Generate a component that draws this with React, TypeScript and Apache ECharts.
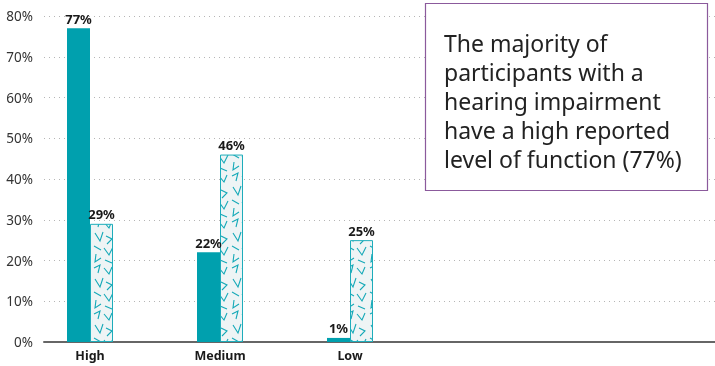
import React, { useEffect, useRef } from "react";
import * as echarts from "echarts";

const categories = ["High", "Medium", "Low", "", ""];
const seriesSolid = [77, 22, 1];
const seriesPattern = [29, 46, 25];
const yTicks = [0, 10, 20, 30, 40, 50, 60, 70, 80];
const noteLines = [
  "The majority of",
  "participants with a",
  "hearing impairment",
  "have a high reported",
  "level of function (77%)",
];

const TEAL = "#00a0ae";
const tileSvg =
  `<svg xmlns='http://www.w3.org/2000/svg' width='23' height='46'>` +
  `<rect width='23' height='46' fill='#eef4f5'/>` +
  `<g fill='none' stroke='#14a9b8' stroke-width='1.1'>` +
  `<path d='M3 3 L8 11 L11 2'/>` +
  `<path d='M14 6 L20 9 L15 14'/>` +
  `<path d='M2 16 L9 20'/>` +
  `<path d='M12 18 L17 25 L21 17'/>` +
  `<path d='M4 24 L3 32 L9 28'/>` +
  `<path d='M13 30 L20 33'/>` +
  `<path d='M2 38 L8 35 L6 43'/>` +
  `<path d='M12 38 L17 44 L20 37'/>` +
  `</g></svg>`;
const tileUrl = "data:image/svg+xml;charset=utf-8," + encodeURIComponent(tileSvg);

export default function App() {
  const ref = useRef<HTMLDivElement>(null);
  useEffect(() => {
    if (!ref.current) return;
    const chart = echarts.init(ref.current, null, { renderer: "svg" });
    const labelStyle = {
      show: true,
      position: "top" as const,
      distance: 3,
      formatter: (p: any) => p.value + "%",
      fontFamily: "Noto Sans",
      fontWeight: "bold" as const,
      fontSize: 13,
      color: "#1a1a1a",
    };
    const option = {
      animation: false,
      grid: [
        { left: 44, right: 0, top: 16, bottom: 24 },
        { left: 25, width: 650, top: 16, bottom: 24 },
      ],
      xAxis: [
        {
          gridIndex: 0,
          type: "value",
          min: 0,
          max: 1,
          axisLine: { show: true, lineStyle: { color: "#666", width: 2 } },
          axisTick: { show: false },
          axisLabel: { show: false },
          splitLine: { show: false },
        },
        {
          gridIndex: 1,
          type: "category",
          data: categories,
          axisLine: { show: false },
          axisTick: { show: false },
          axisLabel: {
            fontFamily: "Noto Sans",
            fontWeight: "bold",
            fontSize: 12.5,
            color: "#1a1a1a",
            margin: 7,
          },
        },
      ],
      yAxis: [
        {
          gridIndex: 0,
          type: "value",
          min: 0,
          max: 80,
          interval: 10,
          axisLine: { show: false },
          axisTick: { show: false },
          axisLabel: {
            formatter: (v: number) => (yTicks.includes(v) ? v + "%" : ""),
            fontFamily: "Noto Sans",
            fontSize: 13.5,
            color: "#333",
            margin: 11,
          },
          splitLine: {
            show: true,
            lineStyle: { color: "#b5b5b5", type: [1, 4], width: 1 },
          },
        },
        {
          gridIndex: 1,
          type: "value",
          min: 0,
          max: 80,
          interval: 10,
          show: false,
        },
      ],
      series: [
        {
          type: "bar",
          xAxisIndex: 1,
          yAxisIndex: 1,
          data: seriesSolid,
          barWidth: 23,
          barGap: "0%",
          itemStyle: { color: TEAL },
          label: labelStyle,
        },
        {
          type: "bar",
          xAxisIndex: 1,
          yAxisIndex: 1,
          data: seriesPattern,
          barWidth: 23,
          barGap: "0%",
          itemStyle: {
            color: { image: tileUrl, repeat: "repeat" },
            borderColor: "#1eadbb",
            borderWidth: 1,
          },
          label: labelStyle,
        },
      ],
      graphic: [
        {
          type: "rect",
          z: 100,
          shape: { x: 425.5, y: 3.5, width: 282, height: 187 },
          style: { fill: "#fff", stroke: "#8b5a9c", lineWidth: 1.2 },
        },
        ...noteLines.map((t, i) => ({
          type: "text",
          z: 101,
          x: 444,
          y: 43 + i * 29,
          style: {
            text: t,
            fontFamily: "Noto Sans",
            fontSize: 23,
            fill: "#222",
            textVerticalAlign: "middle",
          },
        })),
      ],
    };
    chart.setOption(option as any);
    return () => chart.dispose();
  }, []);
  return <div ref={ref} style={{ width: 715, height: 366, position: "fixed", left: 0, top: 0 }} />;
}
